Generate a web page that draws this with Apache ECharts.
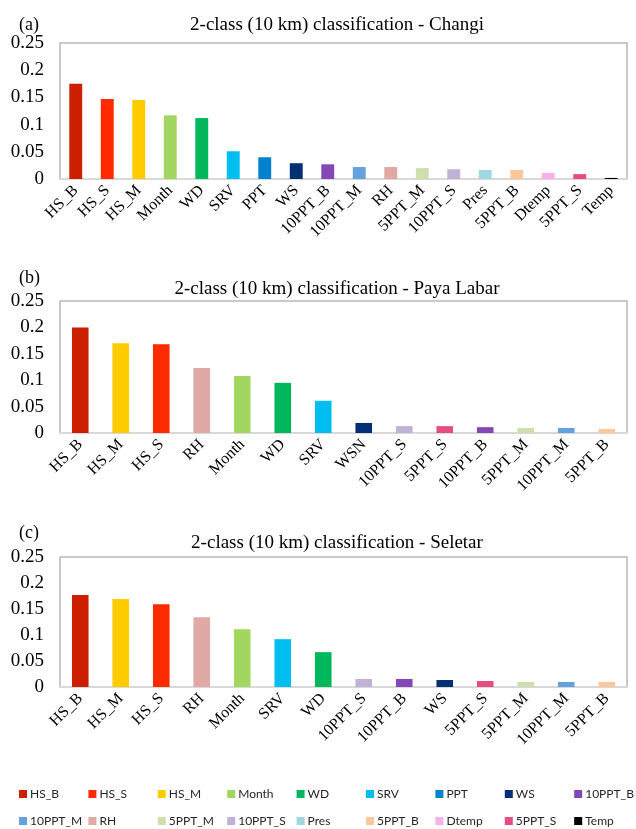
<!DOCTYPE html>
<html>
<head>
<meta charset="utf-8">
<script src="https://cdn.jsdelivr.net/npm/echarts@6/dist/echarts.min.js"></script>
<style>
  html, body { margin: 0; padding: 0; background: #fff; }
  #chart { width: 636px; height: 829px; }
</style>
</head>
<body>
<div id="chart"></div>
<script>
// Variable importance for the 2-class (10 km) classification at three stations
const panelTitles = [
  '2-class (10 km) classification - Changi',
  '2-class (10 km) classification - Paya Labar',
  '2-class (10 km) classification - Seletar'
];
const panelTags = ['(a)', '(b)', '(c)'];

const changiVars = ['HS_B', 'HS_S', 'HS_M', 'Month', 'WD', 'SRV', 'PPT', 'WS', '10PPT_B',
  '10PPT_M', 'RH', '5PPT_M', '10PPT_S', 'Pres', '5PPT_B', 'Dtemp', '5PPT_S', 'Temp'];
const changiValues = [0.175, 0.147, 0.145, 0.117, 0.112, 0.051, 0.040, 0.029, 0.027,
  0.022, 0.022, 0.020, 0.018, 0.0165, 0.0165, 0.011, 0.009, 0.002];

const payaVars = ['HS_B', 'HS_M', 'HS_S', 'RH', 'Month', 'WD', 'SRV', 'WSN', '10PPT_S',
  '5PPT_S', '10PPT_B', '5PPT_M', '10PPT_M', '5PPT_B'];
const payaValues = [0.200, 0.170, 0.168, 0.123, 0.108, 0.095, 0.061, 0.019, 0.013,
  0.013, 0.011, 0.0095, 0.0095, 0.0077];

const seletarVars = ['HS_B', 'HS_M', 'HS_S', 'RH', 'Month', 'SRV', 'WD', '10PPT_S', '10PPT_B',
  'WS', '5PPT_S', '5PPT_M', '10PPT_M', '5PPT_B'];
const seletarValues = [0.177, 0.169, 0.159, 0.134, 0.111, 0.092, 0.067, 0.0155, 0.0155,
  0.0135, 0.0115, 0.0097, 0.0097, 0.0097];

const yTicks = [0, 0.05, 0.1, 0.15, 0.2, 0.25];

// Legend entries, in the order shown beneath the charts
const legendNames = ['HS_B', 'HS_S', 'HS_M', 'Month', 'WD', 'SRV', 'PPT', 'WS', '10PPT_B',
  '10PPT_M', 'RH', '5PPT_M', '10PPT_S', 'Pres', '5PPT_B', 'Dtemp', '5PPT_S', 'Temp'];

const varColors = {
  'HS_B': '#cc1f00', 'HS_S': '#ff2a00', 'HS_M': '#ffcc00', 'Month': '#a1d660',
  'WD': '#00b85c', 'SRV': '#00bff0', 'PPT': '#0083cc', 'WS': '#033073', 'WSN': '#033073',
  '10PPT_B': '#8547b5', '10PPT_M': '#65a2dd', 'RH': '#e1a9a6', '5PPT_M': '#cddfac',
  '10PPT_S': '#c1b1d5', 'Pres': '#a1d6e3', '5PPT_B': '#fcc89b', 'Dtemp': '#f8b1ec',
  '5PPT_S': '#e64c81', 'Temp': '#000000'
};

const panels = [
  { vars: changiVars, values: changiValues, top: 43, height: 136, tagTop: 11, titleTop: 11 },
  { vars: payaVars, values: payaValues, top: 301, height: 132, tagTop: 264, titleTop: 275 },
  { vars: seletarVars, values: seletarValues, top: 557, height: 130, tagTop: 519, titleTop: 529 }
];

const serif = '"Liberation Serif", "DejaVu Serif", serif';

const grids = [], xAxes = [], yAxes = [], series = [], titles = [];
panels.forEach((p, i) => {
  grids.push({
    left: 60, right: 9, top: p.top, height: p.height,
    show: true, borderColor: '#b8b8b8', borderWidth: 1.5, backgroundColor: '#fff'
  });
  xAxes.push({
    type: 'category', gridIndex: i, data: p.vars,
    axisLine: { show: true, lineStyle: { color: '#d9d9d9', width: 2 } },
    axisTick: { show: false },
    axisLabel: {
      interval: 0, rotate: 45, margin: 9,
      fontFamily: serif, fontSize: 16, color: '#000'
    }
  });
  yAxes.push({
    type: 'value', gridIndex: i, min: yTicks[0], max: yTicks[yTicks.length - 1], interval: 0.05,
    splitLine: { show: false }, axisLine: { show: false }, axisTick: { show: false },
    axisLabel: {
      margin: 16, fontFamily: serif, fontSize: 19, color: '#000',
      formatter: v => String(parseFloat(v.toFixed(2)))
    }
  });
  p.vars.forEach((name, k) => {
    series.push({
      name: name, type: 'bar', stack: 'panel' + i,
      xAxisIndex: i, yAxisIndex: i, barWidth: '41%',
      itemStyle: { color: varColors[name] },
      data: p.vars.map((_, j) => (j === k ? p.values[k] : null))
    });
  });
  titles.push({
    text: panelTitles[i], left: 332, top: p.titleTop, textAlign: 'center',
    textStyle: { fontFamily: serif, fontSize: 19, fontWeight: 'normal', color: '#000' }
  });
  titles.push({
    text: panelTags[i], left: 14, top: p.tagTop,
    textStyle: { fontFamily: serif, fontSize: 18, fontWeight: 'normal', color: '#000' }
  });
});

// One legend per entry so the entries sit on a fixed column grid
const legends = legendNames.map((name, i) => ({
  data: [name],
  left: 14 + (i % 9) * 69.4,
  top: i < 9 ? 783 : 810,
  itemWidth: 8, itemHeight: 8, itemGap: 0,
  icon: 'rect', selectedMode: false,
  textStyle: {
    fontFamily: 'Lato, "Open Sans", sans-serif',
    fontSize: 12, color: '#262626', padding: [0, 0, 0, -2]
  }
}));

const chart = echarts.init(document.getElementById('chart'), null, { renderer: 'canvas' });
chart.setOption({
  backgroundColor: '#fff',
  animation: false,
  title: titles,
  grid: grids,
  xAxis: xAxes,
  yAxis: yAxes,
  legend: legends,
  series: series
});
</script>
</body>
</html>
